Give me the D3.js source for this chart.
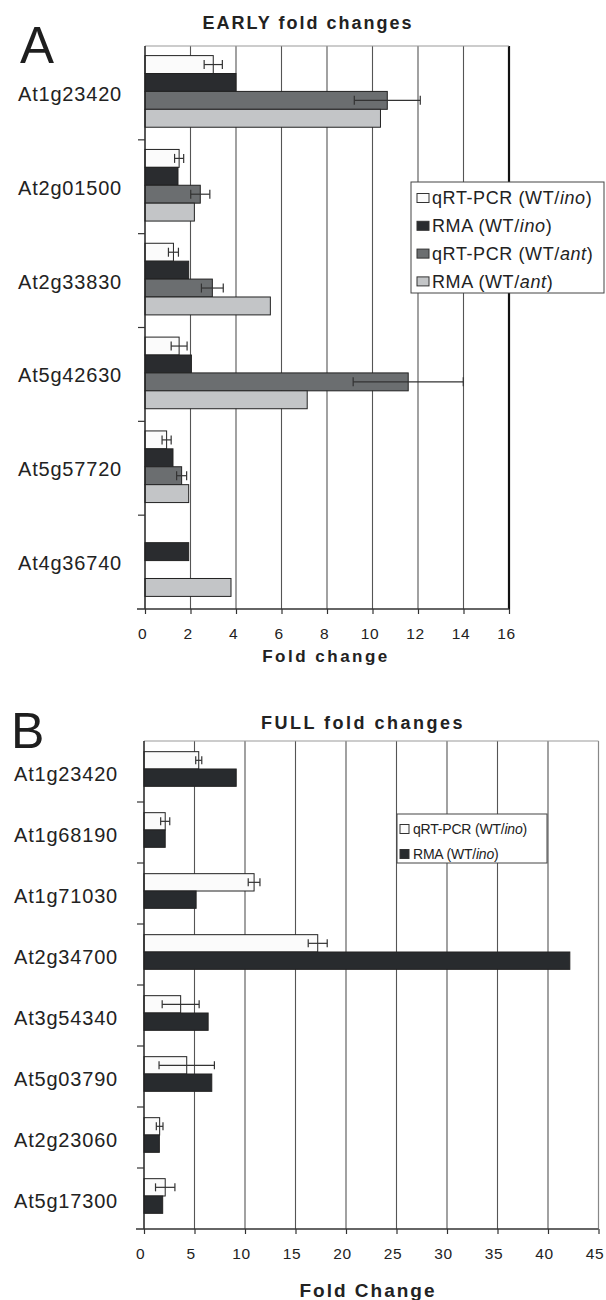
<!DOCTYPE html>
<html>
<head>
<meta charset="utf-8">
<script src="https://cdn.jsdelivr.net/npm/d3@7"></script>
<style>
  body { margin: 0; background: #fff; }
  svg { display: block; font-family: "Liberation Sans", Arial, sans-serif; }
</style>
</head>
<body>
<svg id="chart" width="606" height="1300"></svg>
<script>
// ---- data ----
const earlyGenes = ['At1g23420', 'At2g01500', 'At2g33830', 'At5g42630', 'At5g57720', 'At4g36740'];
const earlySeriesNames = ['qRT-PCR', 'RMA', 'qRT-PCR', 'RMA'];
const earlySeriesMutants = ['ino', 'ino', 'ant', 'ant'];
const earlyQrtIno = [3.0, 1.5, 1.25, 1.5, 0.95, null];
const earlyQrtInoErr = [0.4, 0.2, 0.22, 0.35, 0.2, null];
const earlyRmaIno = [4.0, 1.45, 1.92, 2.04, 1.23, 1.92];
const earlyQrtAnt = [10.65, 2.43, 2.96, 11.57, 1.61, null];
const earlyQrtAntErr = [1.45, 0.42, 0.48, 2.42, 0.22, null];
const earlyRmaAnt = [10.35, 2.17, 5.51, 7.13, 1.92, 3.78];
const earlyTicks = [0, 2, 4, 6, 8, 10, 12, 14, 16];

const fullGenes = ['At1g23420', 'At1g68190', 'At1g71030', 'At2g34700', 'At3g54340', 'At5g03790', 'At2g23060', 'At5g17300'];
const fullSeriesNames = ['qRT-PCR', 'RMA'];
const fullSeriesMutants = ['ino', 'ino'];
const fullQrtIno = [5.42, 2.1, 10.9, 17.2, 3.63, 4.23, 1.55, 2.1];
const fullQrtInoErr = [0.3, 0.45, 0.58, 0.94, 1.83, 2.74, 0.33, 0.96];
const fullRmaIno = [9.13, 2.1, 5.16, 42.16, 6.35, 6.71, 1.52, 1.85];
const fullTicks = [0, 5, 10, 15, 20, 25, 30, 35, 40, 45];

const svg = d3.select('#chart');

let drawPanel = function (cfg) {
  let g = svg.append('g');

  let x = d3.scaleLinear().domain([0, cfg.max]).range([cfg.x0, cfg.x1]);
  let y0 = d3.scaleBand().domain(cfg.genes).range([cfg.y0, cfg.y1]);
  let y1 = d3.scaleBand().domain(d3.range(cfg.series.length))
    .range([0, y0.bandwidth()]).paddingOuter(cfg.outerPad);

  // big panel letter + title
  g.append('text')
    .attr('x', cfg.letterX).attr('y', cfg.letterY)
    .style('font-size', cfg.letterSize + 'px').style('fill', '#1e1e1e')
    .text(cfg.letter);

  g.append('text')
    .attr('x', cfg.titleX).attr('y', cfg.titleY)
    .attr('text-anchor', 'middle')
    .style('font-size', cfg.titleSize + 'px').style('font-weight', 'bold')
    .style('letter-spacing', cfg.titleSpacing + 'px').style('fill', '#222')
    .text(cfg.title);

  // grid lines
  g.selectAll('.grid')
    .data(cfg.ticks.filter(t => t > 0))
    .enter().append('line')
    .attr('x1', d => x(d)).attr('x2', d => x(d))
    .attr('y1', cfg.y0).attr('y2', cfg.y1)
    .style('stroke', d => d === cfg.max ? cfg.rightColor : '#555')
    .style('stroke-width', d => d === cfg.max ? cfg.rightWidth : 1.1);

  // top frame
  g.append('line')
    .attr('x1', cfg.x0).attr('x2', cfg.x1)
    .attr('y1', cfg.y0).attr('y2', cfg.y0)
    .style('stroke', '#999').style('stroke-width', 1.2);

  // bars
  let groups = g.selectAll('.cat')
    .data(cfg.genes)
    .enter().append('g')
    .attr('transform', d => 'translate(0,' + (y0(d) + cfg.shift) + ')');

  groups.each(function (gene, i) {
    let cat = d3.select(this);
    cfg.series.forEach(function (s, j) {
      let v = s.values[i];
      if (v === null) {
        return;
      }
      cat.append('rect')
        .attr('x', x(0))
        .attr('y', y1(j))
        .attr('width', x(v) - x(0))
        .attr('height', y1.bandwidth())
        .style('fill', s.color)
        .style('stroke', '#222')
        .style('stroke-width', 1);

      if (s.err && s.err[i] !== null) {
        let cy = y1(j) + y1.bandwidth() / 2;
        let lo = x(v - s.err[i]);
        let hi = x(v + s.err[i]);
        let capH = cfg.capH;
        cat.append('line')
          .attr('x1', lo).attr('x2', hi).attr('y1', cy).attr('y2', cy)
          .style('stroke', '#333').style('stroke-width', 1.2);
        [lo, hi].forEach(function (px) {
          cat.append('line')
            .attr('x1', px).attr('x2', px)
            .attr('y1', cy - capH / 2).attr('y2', cy + capH / 2)
            .style('stroke', '#333').style('stroke-width', 1.2);
        });
      }
    });
  });

  // left axis with ticks at category boundaries
  g.append('line')
    .attr('x1', cfg.x0).attr('x2', cfg.x0)
    .attr('y1', cfg.y0).attr('y2', cfg.y1)
    .style('stroke', '#222').style('stroke-width', 1.5);

  g.selectAll('.ltick')
    .data(cfg.genes.slice(1))
    .enter().append('line')
    .attr('x1', cfg.x0 - 7).attr('x2', cfg.x0)
    .attr('y1', d => y0(d)).attr('y2', d => y0(d))
    .style('stroke', '#333').style('stroke-width', 1.2);

  g.selectAll('.glabel')
    .data(cfg.genes)
    .enter().append('text')
    .attr('x', cfg.x0 - cfg.labelGap)
    .attr('y', d => y0(d) + y0.bandwidth() / 2 + cfg.labelShift)
    .attr('dy', '0.35em')
    .attr('text-anchor', 'end')
    .style('font-size', '20px').style('letter-spacing', '0.8px').style('fill', '#222')
    .text(d => d);

  // bottom axis
  let axis = d3.axisBottom(x).tickValues(cfg.ticks)
    .tickSizeInner(5).tickSizeOuter(0).tickPadding(cfg.tickPad);
  let ax = g.append('g')
    .attr('transform', 'translate(0,' + cfg.y1 + ')')
    .call(axis);
  ax.select('.domain').remove();
  ax.selectAll('.tick line').style('stroke', '#333').style('stroke-width', 1.2);
  ax.selectAll('.tick text')
    .attr('dx', cfg.tickDx)
    .style('font-family', '"Liberation Sans", Arial, sans-serif')
    .style('font-size', '15.5px').style('letter-spacing', '0.6px').style('fill', '#222');
  g.append('line')
    .attr('x1', cfg.x0 - 8).attr('x2', cfg.x1)
    .attr('y1', cfg.y1).attr('y2', cfg.y1)
    .style('stroke', '#333').style('stroke-width', 1.4);

  g.append('text')
    .attr('x', cfg.axisTitleX).attr('y', cfg.axisTitleY)
    .attr('text-anchor', 'middle')
    .style('font-size', cfg.axisTitleSize + 'px').style('font-weight', 'bold')
    .style('letter-spacing', cfg.axisTitleSpacing + 'px').style('fill', '#222')
    .text(cfg.axisTitle);

  // legend
  let L = cfg.legend;
  let lg = g.append('g');
  lg.append('rect')
    .attr('x', L.x).attr('y', L.y).attr('width', L.w).attr('height', L.h)
    .style('fill', '#fff').style('stroke', '#444').style('stroke-width', 1);
  cfg.series.forEach(function (s, j) {
    let cy = L.y + L.first + j * L.step;
    lg.append('rect')
      .attr('x', L.x + L.swX).attr('y', cy - L.swH / 2)
      .attr('width', L.swW).attr('height', L.swH)
      .style('fill', s.color).style('stroke', '#333').style('stroke-width', 1);
    let t = lg.append('text')
      .attr('x', L.x + L.textX).attr('y', cy).attr('dy', '0.36em')
      .style('font-size', L.size + 'px').style('letter-spacing', L.spacing + 'px')
      .style('fill', '#222');
    t.append('tspan').text(s.name + ' (WT/');
    t.append('tspan').style('font-style', 'italic').text(s.mutant);
    t.append('tspan').text(')');
  });
};

let earlyColors = ['#fbfbfb', '#2a2c2f', '#6b6e70', '#c3c5c7'];
let earlyValues = [earlyQrtIno, earlyRmaIno, earlyQrtAnt, earlyRmaAnt];
let earlyErrs = [earlyQrtInoErr, null, earlyQrtAntErr, null];

drawPanel({
  letter: 'A', letterX: 20, letterY: 63, letterSize: 51,
  title: 'EARLY fold changes', titleX: 308, titleY: 29, titleSize: 18, titleSpacing: 2,
  genes: earlyGenes,
  series: earlySeriesNames.map((n, j) => ({
    name: n, mutant: earlySeriesMutants[j], color: earlyColors[j],
    values: earlyValues[j], err: earlyErrs[j]
  })),
  max: 16, ticks: earlyTicks,
  x0: 145, x1: 509, y0: 46, y1: 609,
  outerPad: 0.62, shift: -1.5, capH: 9,
  rightColor: '#111', rightWidth: 2.2,
  labelGap: 23, labelShift: 1,
  tickPad: 14, tickDx: -3,
  axisTitle: 'Fold change', axisTitleX: 326, axisTitleY: 662, axisTitleSize: 17, axisTitleSpacing: 2.5,
  legend: { x: 411, y: 182, w: 193, h: 111, first: 16, step: 27.8,
    swX: 6, swW: 12, swH: 9, textX: 21, size: 18, spacing: 0.6 }
});

let fullColors = ['#fbfbfb', '#282b2e'];
let fullValues = [fullQrtIno, fullRmaIno];
let fullErrs = [fullQrtInoErr, null];

drawPanel({
  letter: 'B', letterX: 11, letterY: 748, letterSize: 50,
  title: 'FULL fold changes', titleX: 363, titleY: 729, titleSize: 18, titleSpacing: 2.5,
  genes: fullGenes,
  series: fullSeriesNames.map((n, j) => ({
    name: n, mutant: fullSeriesMutants[j], color: fullColors[j],
    values: fullValues[j], err: fullErrs[j]
  })),
  max: 45, ticks: fullTicks,
  x0: 144, x1: 598.5, y0: 741, y1: 1229,
  outerPad: 0.76, shift: -2.5, capH: 8,
  rightColor: '#888', rightWidth: 1.2,
  labelGap: 26, labelShift: 2,
  tickPad: 14, tickDx: -4,
  axisTitle: 'Fold Change', axisTitleX: 368, axisTitleY: 1297, axisTitleSize: 19, axisTitleSpacing: 2,
  legend: { x: 397, y: 814, w: 150, h: 49, first: 15, step: 25,
    swX: 3, swW: 9, swH: 9, textX: 16, size: 14, spacing: -0.2 }
});
</script>
</body>
</html>
